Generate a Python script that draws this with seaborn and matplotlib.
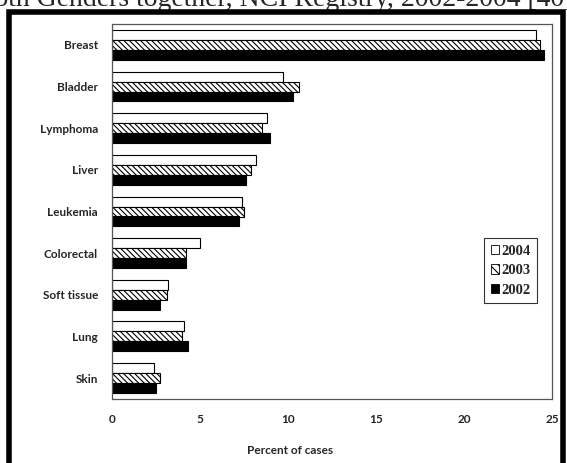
import matplotlib
matplotlib.use("Agg")
import matplotlib.pyplot as plt
import seaborn as sns
import pandas as pd
from matplotlib.patches import Rectangle, Patch

sites = ["Breast", "Bladder", "Lymphoma", "Liver", "Leukemia",
         "Colorectal", "Soft tissue", "Lung", "Skin"]
years = ["2004", "2003", "2002"]
v2004 = [24.1, 9.7, 8.8, 8.2, 7.4, 5.0, 3.2, 4.1, 2.4]
v2003 = [24.3, 10.6, 8.5, 7.9, 7.5, 4.2, 3.1, 4.0, 2.7]
v2002 = [24.55, 10.3, 9.0, 7.6, 7.2, 4.2, 2.7, 4.3, 2.5]
xticks = [0, 5, 10, 15, 20, 25]

rows = []
for yr, vals in zip(years, [v2004, v2003, v2002]):
    for s, v in zip(sites, vals):
        rows.append({"Site": s, "Year": yr, "Percent": v})
df = pd.DataFrame(rows)

sns.set_theme(style="white")
plt.rcParams["hatch.linewidth"] = 0.8

fig = plt.figure(figsize=(5.67, 4.63), dpi=100)
W, H = 567, 463
ax = fig.add_axes([112 / W, 1 - 399 / H, 440 / W, 375 / H])

sns.barplot(data=df, y="Site", x="Percent", hue="Year", order=sites,
            hue_order=years, palette={"2004": "white", "2003": "white", "2002": "black"},
            orient="h", width=0.72, edgecolor="black", linewidth=0.8,
            errorbar=None, legend=False, ax=ax)

for cont, yr in zip(ax.containers, years):
    for p in cont:
        if yr == "2003":
            p.set_hatch("\\\\\\\\\\\\")

FS = 8.5
ax.set_xlim(0, 25)
ax.set_xticks(xticks)
ax.set_xticklabels([str(t) for t in xticks], fontsize=FS, fontweight="bold", family="Lato")
for lab in ax.get_yticklabels():
    lab.set_fontsize(FS)
    lab.set_fontweight("bold")
    lab.set_family("Lato")
ax.tick_params(axis="x", length=0, pad=11)
ax.tick_params(axis="y", length=0, pad=10)
ax.set_ylabel("")
ax.set_xlabel("Percent of cases", fontsize=FS, fontweight="bold", family="Lato")
ax.xaxis.set_label_coords((290 - 112) / 440, -(451 - 399) / 375)
ax.xaxis.label.set_va("center")
for sp in ax.spines.values():
    sp.set_visible(True)
    sp.set_color("#555555")
    sp.set_linewidth(0.9)

handles = [Patch(facecolor="white", edgecolor="black", linewidth=0.6),
           Patch(facecolor="white", edgecolor="black", linewidth=0.6, hatch="\\\\\\\\"),
           Patch(facecolor="black", edgecolor="black", linewidth=0.6)]
leg = ax.legend(handles, years, loc="upper left",
                bbox_to_anchor=((484 - 112) / 440, 1 - (238 - 24) / 375),
                borderaxespad=0,
                frameon=True, fancybox=False, handlelength=0.6, handleheight=0.6,
                handletextpad=0.15, labelspacing=0.45, borderpad=0.45,
                prop={"family": "Liberation Serif", "weight": "bold", "size": 10.5})
leg.get_frame().set_edgecolor("black")
leg.get_frame().set_linewidth(0.8)

# outer frame
fig.patches.append(Rectangle((8.5 / W, -0.05), (562.5 - 8.5) / W, 1.05 - 12 / H,
                             transform=fig.transFigure, fill=False,
                             edgecolor="black", linewidth=4, zorder=10))

fig.text(-24 / W, 1 - 6 / H, "Both Genders together, NCI Registry, 2002-2004 [40]",
         family="Liberation Serif", fontsize=20, ha="left", va="baseline")

fig.savefig("out.png", dpi=100)
